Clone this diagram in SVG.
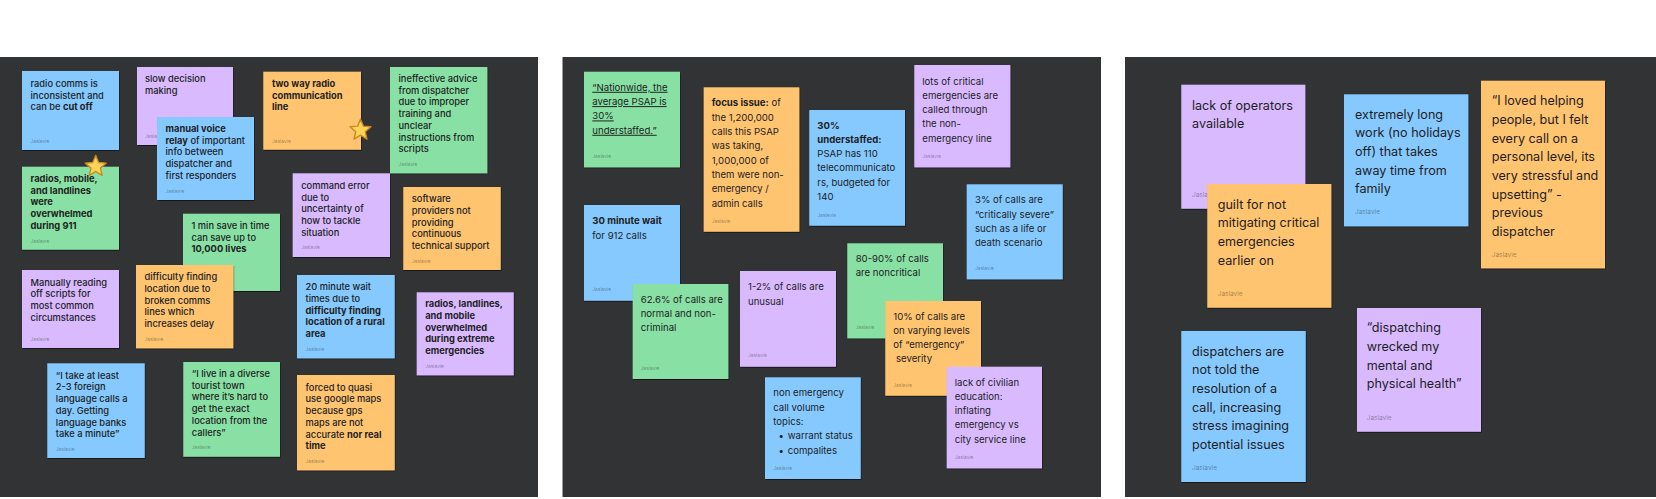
<svg xmlns="http://www.w3.org/2000/svg" width="1656" height="499" viewBox="0 0 1656 499">
<style>
.bg{fill:#323335}
.n{filter:url(#sh)}
.blue{fill:#85C9FF}.green{fill:#88E0A4}.purple{fill:#D9BAFE}.orange{fill:#FFC470}
text{font-family:Inter,"Liberation Sans",sans-serif;fill:#1E1E1E}
.t1{font-size:9.3px;font-weight:500}
.t2{font-size:9.6px;font-weight:400}
.t3{font-size:12.6px;font-weight:400}
.b{font-weight:700}
.u{text-decoration:underline}
.a1,.a2{font-size:4.9px;fill:#1E1E1E;fill-opacity:.45}
.a3{font-size:6.5px;fill:#1E1E1E;fill-opacity:.45}
.star{fill:#FFD35A;stroke:#C98A1C;stroke-width:1.4;stroke-linejoin:round}
</style>
<defs>
<filter id="sh" x="-10%" y="-10%" width="125%" height="125%"><feDropShadow dx="0.6" dy="1" stdDeviation="0.7" flood-color="#000" flood-opacity="0.55"/></filter>
<polygon id="starShape" class="star" points="0,-11 2.94,-4.05 10.46,-3.4 4.76,1.55 6.47,8.9 0,5 -6.47,8.9 -4.76,1.55 -10.46,-3.4 -2.94,-4.05"/>
</defs>
<rect width="1656" height="499" fill="#FFFFFF"/>
<g id="panels">
<rect class="bg" x="0" y="57" width="538" height="440"/>
<rect class="bg" x="562.5" y="57" width="538.5" height="440"/>
<rect class="bg" x="1125" y="57" width="531" height="440"/>
</g>

<!-- Panel 1 -->
<g id="n-radio-comms"><rect class="n blue" x="22" y="71" width="97" height="79"/>
<text class="t1" x="30.5" y="87"><tspan x="30.5">radio comms is</tspan><tspan x="30.5" dy="11.7">inconsistent and</tspan><tspan x="30.5" dy="11.7">can be <tspan class="b">cut off</tspan></tspan></text>
<text class="a1" x="30.5" y="142.5">Jaslavie</text></g>

<g id="n-slow-decision"><rect class="n purple" x="137" y="67" width="96" height="78"/>
<text class="t1" x="145" y="82"><tspan x="145">slow decision</tspan><tspan x="145" dy="11.7">making</tspan></text>
<text class="a1" x="145" y="137.5">Jaslavie</text></g>

<g id="n-manual-voice"><rect class="n blue" x="157" y="117" width="97" height="83"/>
<text class="t1" x="165.5" y="132"><tspan x="165.5" class="b">manual voice</tspan><tspan x="165.5" dy="11.7"><tspan class="b">relay</tspan> of important</tspan><tspan x="165.5" dy="11.7">info between</tspan><tspan x="165.5" dy="11.7">dispatcher and</tspan><tspan x="165.5" dy="11.7">first responders</tspan></text>
<text class="a1" x="165.5" y="193">Jaslavie</text></g>

<g id="n-radios-mobile"><rect class="n green" x="22" y="166.7" width="97" height="83"/>
<text class="t1 b" x="30.5" y="182"><tspan x="30.5">radios, mobile,</tspan><tspan x="30.5" dy="11.7">and landlines</tspan><tspan x="30.5" dy="11.7">were</tspan><tspan x="30.5" dy="11.7">overwhelmed</tspan><tspan x="30.5" dy="11.7">during 911</tspan></text>
<text class="a1" x="30.5" y="242.5">Jaslavie</text></g>

<g id="n-one-min"><rect class="n green" x="183" y="213.7" width="97" height="77.3"/>
<text class="t1" x="191.5" y="229"><tspan x="191.5">1 min save in time</tspan><tspan x="191.5" dy="11.7">can save up to</tspan><tspan x="191.5" dy="11.7" class="b">10,000 lives</tspan></text></g>

<g id="n-two-way"><rect class="n orange" x="263.3" y="71.7" width="97.7" height="78"/>
<text class="t1 b" x="272" y="87"><tspan x="272">two way radio</tspan><tspan x="272" dy="11.7">communication</tspan><tspan x="272" dy="11.7">line</tspan></text>
<text class="a1" x="272" y="142.5">Jaslavie</text></g>

<g id="n-ineffective"><rect class="n green" x="390" y="67" width="97.3" height="106.3"/>
<text class="t1" x="398.5" y="82"><tspan x="398.5">ineffective advice</tspan><tspan x="398.5" dy="11.7">from dispatcher</tspan><tspan x="398.5" dy="11.7">due to improper</tspan><tspan x="398.5" dy="11.7">training and</tspan><tspan x="398.5" dy="11.7">unclear</tspan><tspan x="398.5" dy="11.7">instructions from</tspan><tspan x="398.5" dy="11.7">scripts</tspan></text>
<text class="a1" x="398.5" y="166">Jaslavie</text></g>

<g id="n-command-error"><rect class="n purple" x="292.7" y="173.3" width="97.3" height="83.7"/>
<text class="t1" x="301.2" y="189"><tspan x="301.2">command error</tspan><tspan x="301.2" dy="11.7">due to</tspan><tspan x="301.2" dy="11.7">uncertainty of</tspan><tspan x="301.2" dy="11.7">how to tackle</tspan><tspan x="301.2" dy="11.7">situation</tspan></text>
<text class="a1" x="301.2" y="249">Jaslavie</text></g>

<g id="n-software"><rect class="n orange" x="403.3" y="187" width="97.4" height="83"/>
<text class="t1" x="411.8" y="202.3"><tspan x="411.8">software</tspan><tspan x="411.8" dy="11.7">providers not</tspan><tspan x="411.8" dy="11.7">providing</tspan><tspan x="411.8" dy="11.7">continuous</tspan><tspan x="411.8" dy="11.7">technical support</tspan></text>
<text class="a1" x="411.8" y="262.5">Jaslavie</text></g>

<g id="n-manually-reading"><rect class="n purple" x="22" y="270" width="97" height="78"/>
<text class="t1" x="30.5" y="285.7"><tspan x="30.5">Manually reading</tspan><tspan x="30.5" dy="11.7">off scripts for</tspan><tspan x="30.5" dy="11.7">most common</tspan><tspan x="30.5" dy="11.7">circumstances</tspan></text>
<text class="a1" x="30.5" y="341">Jaslavie</text></g>

<g id="n-difficulty-finding"><rect class="n orange" x="136" y="265" width="97.3" height="83.3"/>
<text class="t1" x="144.5" y="280.3"><tspan x="144.5">difficulty finding</tspan><tspan x="144.5" dy="11.7">location due to</tspan><tspan x="144.5" dy="11.7">broken comms</tspan><tspan x="144.5" dy="11.7">lines which</tspan><tspan x="144.5" dy="11.7">increases delay</tspan></text>
<text class="a1" x="144.5" y="341">Jaslavie</text></g>

<g id="n-foreign-language"><rect class="n blue" x="47.3" y="363.3" width="97.4" height="94.7"/>
<text class="t1" x="55.8" y="378.7"><tspan x="55.8">“I take at least</tspan><tspan x="55.8" dy="11.7">2-3 foreign</tspan><tspan x="55.8" dy="11.7">language calls a</tspan><tspan x="55.8" dy="11.7">day. Getting</tspan><tspan x="55.8" dy="11.7">language banks</tspan><tspan x="55.8" dy="11.7">take a minute”</tspan></text>
<text class="a1" x="55.8" y="451">Jaslavie</text></g>

<g id="n-tourist-town"><rect class="n green" x="183.3" y="362" width="96.7" height="94.7"/>
<text class="t1" x="191.8" y="377"><tspan x="191.8">“I live in a diverse</tspan><tspan x="191.8" dy="11.7">tourist town</tspan><tspan x="191.8" dy="11.7">where it’s hard to</tspan><tspan x="191.8" dy="11.7">get the exact</tspan><tspan x="191.8" dy="11.7">location from the</tspan><tspan x="191.8" dy="11.7">callers”</tspan></text>
<text class="a1" x="191.8" y="449">Jaslavie</text></g>

<g id="n-twenty-minute"><rect class="n blue" x="297" y="275" width="97.7" height="83.3"/>
<text class="t1" x="305.5" y="290.3"><tspan x="305.5">20 minute wait</tspan><tspan x="305.5" dy="11.7">times due to</tspan><tspan x="305.5" dy="11.7" class="b">difficulty finding</tspan><tspan x="305.5" dy="11.7" class="b">location of a rural</tspan><tspan x="305.5" dy="11.7" class="b">area</tspan></text>
<text class="a1" x="305.5" y="351">Jaslavie</text></g>

<g id="n-radios-landlines"><rect class="n purple" x="416.7" y="292.3" width="97" height="83"/>
<text class="t1 b" x="425.2" y="307.3"><tspan x="425.2">radios, landlines,</tspan><tspan x="425.2" dy="11.7">and mobile</tspan><tspan x="425.2" dy="11.7">overwhelmed</tspan><tspan x="425.2" dy="11.7">during extreme</tspan><tspan x="425.2" dy="11.7">emergencies</tspan></text>
<text class="a1" x="425.2" y="368">Jaslavie</text></g>

<g id="n-google-maps"><rect class="n orange" x="297" y="375" width="97.7" height="95.3"/>
<text class="t1" x="305.5" y="390.7"><tspan x="305.5">forced to quasi</tspan><tspan x="305.5" dy="11.7">use google maps</tspan><tspan x="305.5" dy="11.7">because gps</tspan><tspan x="305.5" dy="11.7">maps are not</tspan><tspan x="305.5" dy="11.7">accurate <tspan class="b">nor real</tspan></tspan><tspan x="305.5" dy="11.7" class="b">time</tspan></text>
<text class="a1" x="305.5" y="463">Jaslavie</text></g>

<g id="stars">
<use href="#starShape" transform="translate(95.7 166.5)"/>
<use href="#starShape" transform="translate(360.5 130.2)"/>
</g>

<!-- Panel 2 -->
<g id="n-nationwide"><rect class="n green" x="584" y="71.7" width="96" height="95.6"/>
<text class="t2 u" x="592.3" y="90.8"><tspan x="592.3">“Nationwide, the</tspan><tspan x="592.3" dy="14.33">average PSAP is</tspan><tspan x="592.3" dy="14.33">30%</tspan><tspan x="592.3" dy="14.33">understaffed.”</tspan></text>
<text class="a2" x="592.3" y="157.5">Jaslavie</text></g>

<g id="n-focus-issue"><rect class="n orange" x="703.7" y="87.3" width="95.6" height="144.4"/>
<text class="t2" x="711.7" y="106.2"><tspan x="711.7"><tspan class="b">focus issue:</tspan> of</tspan><tspan x="711.7" dy="14.33">the 1,200,000</tspan><tspan x="711.7" dy="14.33">calls this PSAP</tspan><tspan x="711.7" dy="14.33">was taking,</tspan><tspan x="711.7" dy="14.33">1,000,000 of</tspan><tspan x="711.7" dy="14.33">them were non-</tspan><tspan x="711.7" dy="14.33">emergency /</tspan><tspan x="711.7" dy="14.33">admin calls</tspan></text>
<text class="a2" x="711.7" y="222.5">Jaslavie</text></g>

<g id="n-understaffed"><rect class="n blue" x="809.3" y="110" width="95.7" height="115.7"/>
<text class="t2" x="817.3" y="128.5"><tspan x="817.3" class="b">30%</tspan><tspan x="817.3" dy="14.33" class="b">understaffed:</tspan><tspan x="817.3" dy="14.33">PSAP has 110</tspan><tspan x="817.3" dy="14.33">telecommunicato</tspan><tspan x="817.3" dy="14.33">rs, budgeted for</tspan><tspan x="817.3" dy="14.33">140</tspan></text>
<text class="a2" x="817.3" y="216.5">Jaslavie</text></g>

<g id="n-thirty-minute"><rect class="n blue" x="584" y="205" width="96" height="95.7"/>
<text class="t2" x="592.3" y="224.2"><tspan x="592.3" class="b">30 minute wait</tspan><tspan x="592.3" dy="14.33">for 912 calls</tspan></text>
<text class="a2" x="592.3" y="291">Jaslavie</text></g>

<g id="n-lots-critical"><rect class="n purple" x="914.3" y="65" width="96" height="102.3"/>
<text class="t2" x="922.3" y="84.5"><tspan x="922.3">lots of critical</tspan><tspan x="922.3" dy="14.33">emergencies are</tspan><tspan x="922.3" dy="14.33">called through</tspan><tspan x="922.3" dy="14.33">the non-</tspan><tspan x="922.3" dy="14.33">emergency line</tspan></text>
<text class="a2" x="922.3" y="157.5">Jaslavie</text></g>

<g id="n-three-percent"><rect class="n blue" x="966.7" y="184.3" width="96" height="95"/>
<text class="t2" x="975" y="203.2"><tspan x="975">3% of calls are</tspan><tspan x="975" dy="14.33">“critically severe”</tspan><tspan x="975" dy="14.33">such as a life or</tspan><tspan x="975" dy="14.33">death scenario</tspan></text>
<text class="a2" x="975" y="270">Jaslavie</text></g>

<g id="n-eighty-ninety"><rect class="n green" x="847.3" y="243.3" width="95.7" height="95"/>
<text class="t2" x="855.7" y="261.8"><tspan x="855.7">80-90% of calls</tspan><tspan x="855.7" dy="14.33">are noncritical</tspan></text>
<text class="a2" x="855.7" y="329">Jaslavie</text></g>

<g id="n-sixty-two"><rect class="n green" x="632.7" y="284" width="95.6" height="95"/>
<text class="t2" x="640.7" y="302.8"><tspan x="640.7">62.6% of calls are</tspan><tspan x="640.7" dy="14.33">normal and non-</tspan><tspan x="640.7" dy="14.33">criminal</tspan></text>
<text class="a2" x="640.7" y="370">Jaslavie</text></g>

<g id="n-one-two"><rect class="n purple" x="740" y="271" width="96" height="95.7"/>
<text class="t2" x="748" y="290.2"><tspan x="748">1-2% of calls are</tspan><tspan x="748" dy="14.33">unusual</tspan></text>
<text class="a2" x="748" y="357">Jaslavie</text></g>

<g id="n-non-emergency"><rect class="n blue" x="765" y="377.3" width="95.7" height="101.7"/>
<text class="t2" x="773.3" y="396.2"><tspan x="773.3">non emergency</tspan><tspan x="773.3" dy="14.33">call volume</tspan><tspan x="773.3" dy="14.33">topics:</tspan><tspan x="778.6" dy="14.33">•</tspan><tspan x="787.7">warrant status</tspan><tspan x="778.6" dy="14.33">•</tspan><tspan x="787.7">compalites</tspan></text>
<text class="a2" x="773.3" y="469.5">Jaslavie</text></g>

<g id="n-ten-percent"><rect class="n orange" x="885.3" y="301" width="95.7" height="94.7"/>
<text class="t2" x="893.3" y="319.5" xml:space="preserve"><tspan x="893.3">10% of calls are</tspan><tspan x="893.3" dy="14.33">on varying levels</tspan><tspan x="893.3" dy="14.33">of “emergency”</tspan><tspan x="893.3" dy="14.33"> severity</tspan></text>
<text class="a2" x="893.3" y="386.5">Jaslavie</text></g>

<g id="n-civilian-education"><rect class="n purple" x="946.7" y="366.7" width="95.3" height="101.6"/>
<text class="t2" x="954.7" y="385.5"><tspan x="954.7">lack of civilian</tspan><tspan x="954.7" dy="14.33">education:</tspan><tspan x="954.7" dy="14.33">inflating</tspan><tspan x="954.7" dy="14.33">emergency vs</tspan><tspan x="954.7" dy="14.33">city service line</tspan></text>
<text class="a2" x="954.7" y="459">Jaslavie</text></g>

<!-- Panel 3 -->
<g id="n-lack-operators"><rect class="n purple" x="1181.3" y="84.7" width="124" height="124"/>
<text class="t3" x="1192" y="109.5"><tspan x="1192">lack of operators</tspan><tspan x="1192" dy="18.67">available</tspan></text>
<text class="a3" x="1192" y="196.5">Jaslavie</text></g>

<g id="n-guilt"><rect class="n orange" x="1207.3" y="184" width="124" height="123.7"/>
<text class="t3" x="1217.7" y="208.5"><tspan x="1217.7">guilt for not</tspan><tspan x="1217.7" dy="18.67">mitigating critical</tspan><tspan x="1217.7" dy="18.67">emergencies</tspan><tspan x="1217.7" dy="18.67">earlier on</tspan></text>
<text class="a3" x="1217.7" y="296">Jaslavie</text></g>

<g id="n-long-work"><rect class="n blue" x="1344" y="94.3" width="124.3" height="132"/>
<text class="t3" x="1355" y="118.8"><tspan x="1355">extremely long</tspan><tspan x="1355" dy="18.67">work (no holidays</tspan><tspan x="1355" dy="18.67">off) that takes</tspan><tspan x="1355" dy="18.67">away time from</tspan><tspan x="1355" dy="18.67">family</tspan></text>
<text class="a3" x="1355" y="214">Jaslavie</text></g>

<g id="n-loved-helping"><rect class="n orange" x="1481" y="80.7" width="124" height="187.6"/>
<text class="t3" x="1491.7" y="105.2"><tspan x="1491.7">“I loved helping</tspan><tspan x="1491.7" dy="18.67">people, but I felt</tspan><tspan x="1491.7" dy="18.67">every call on a</tspan><tspan x="1491.7" dy="18.67">personal level, its</tspan><tspan x="1491.7" dy="18.67">very stressful and</tspan><tspan x="1491.7" dy="18.67">upsetting” -</tspan><tspan x="1491.7" dy="18.67">previous</tspan><tspan x="1491.7" dy="18.67">dispatcher</tspan></text>
<text class="a3" x="1491.7" y="256.5">Jaslavie</text></g>

<g id="n-not-told"><rect class="n blue" x="1181.3" y="331" width="124.4" height="151"/>
<text class="t3" x="1192" y="355.5"><tspan x="1192">dispatchers are</tspan><tspan x="1192" dy="18.67">not told the</tspan><tspan x="1192" dy="18.67">resolution of a</tspan><tspan x="1192" dy="18.67">call, increasing</tspan><tspan x="1192" dy="18.67">stress imagining</tspan><tspan x="1192" dy="18.67">potential issues</tspan></text>
<text class="a3" x="1192" y="469.5">Jaslavie</text></g>

<g id="n-wrecked"><rect class="n purple" x="1357" y="308" width="124" height="123.7"/>
<text class="t3" x="1366.7" y="332.2"><tspan x="1366.7">“dispatching</tspan><tspan x="1366.7" dy="18.67">wrecked my</tspan><tspan x="1366.7" dy="18.67">mental and</tspan><tspan x="1366.7" dy="18.67">physical health”</tspan></text>
<text class="a3" x="1366.7" y="419.5">Jaslavie</text></g>
</svg>
